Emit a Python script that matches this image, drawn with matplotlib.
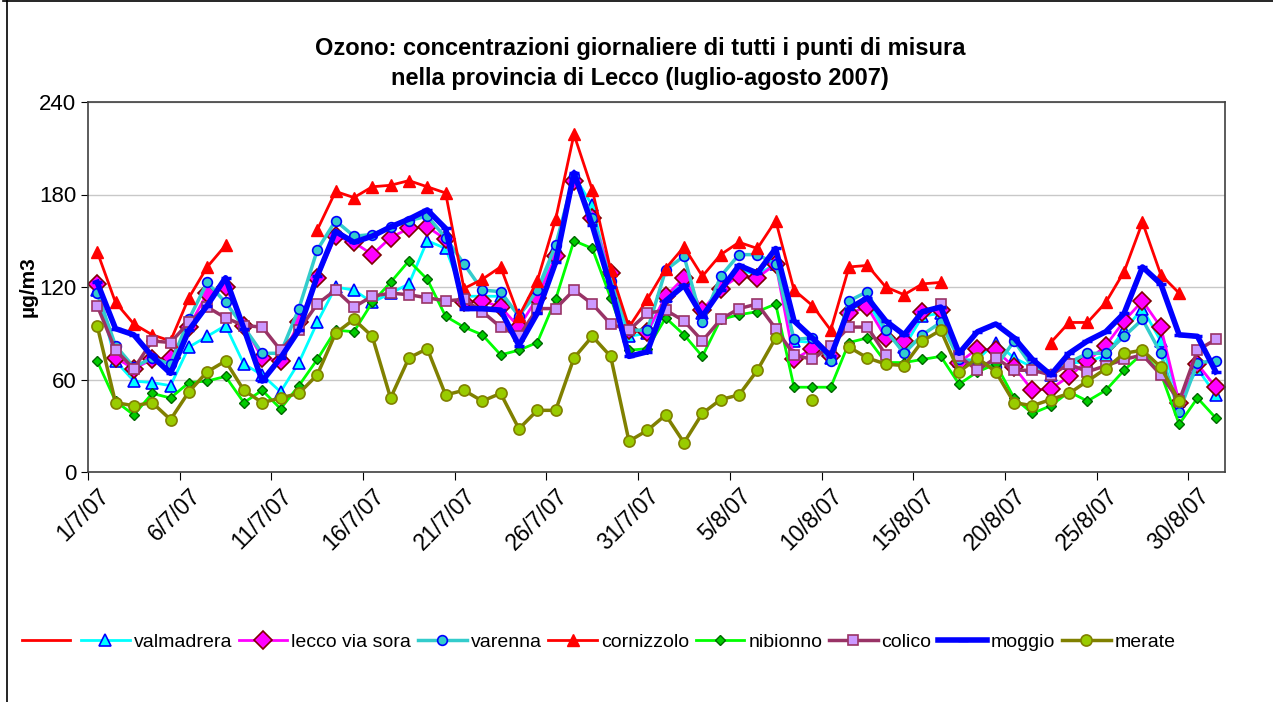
import numpy as np
import matplotlib

matplotlib.use("Agg")

import matplotlib.pyplot as plt
from matplotlib.lines import Line2D

plt.rcParams["font.family"] = ["Liberation Sans", "DejaVu Sans"]

nan = np.nan

# giorni 1/7/07 .. 31/8/07
days = [f"{d}/7/07" for d in range(1, 32)] + [f"{d}/8/07" for d in range(1, 32)]

valmadrera = [118, 72, 59, 58, 56, 81, 88, 95, 70, 63, 52, 71, 97, 120, 118, 110, 116, 122, 150, 145,
              114, 114, 114, 102, 115, 146, 192, 173, 123, 88, 90, 114, 125, 103, 122, 131, 128, 135, 85, 84,
              74, 105, 111, 90, 81, 101, 103, 72, 73, 84, 74, 68, 63, 71, 71, 76, 92, 106, 85, 46,
              67, 50]
lecco = [122, 74, 67, 73, 74, 94, 116, 120, 95, 74, 72, 97, 126, 153, 149, 141, 152, 158, 159, 151,
         110, 111, 107, 94, 113, 140, 189, 165, 129, 92, 91, 114, 126, 105, 119, 127, 126, 135, 73, 80,
         75, 103, 107, 87, 85, 104, 105, 71, 80, 79, 68, 53, 54, 62, 72, 82, 98, 111, 94, 45,
         70, 55]
varenna = [116, 82, 68, 74, 70, 99, 123, 110, 94, 77, 77, 106, 144, 163, 153, 154, 159, 163, 166, 152,
           135, 118, 117, 101, 118, 147, 192, 165, 124, 92, 92, 131, 140, 97, 127, 141, 141, 135, 86, 87,
           72, 111, 117, 92, 77, 89, 97, 73, 72, 68, 85, 68, 63, 71, 77, 77, 88, 99, 77, 39,
           71, 72]
cornizzolo = [143, 110, 96, 89, 85, 113, 133, 147, nan, nan, nan, nan, 157, 182, 178, 185, 186, 189, 185, 181,
              119, 125, 133, 101, 124, 164, 219, 183, 131, 94, 112, 132, 146, 127, 141, 149, 145, 163, 118, 108,
              92, 133, 134, 120, 115, 122, 123, nan, nan, nan, nan, nan, 84, 97, 97, 110, 130, 162, 128, 116,
              nan, nan]
nibionno = [72, 46, 37, 51, 48, 58, 59, 62, 45, 53, 41, 56, 73, 92, 91, 110, 123, 137, 125, 101,
            94, 89, 76, 79, 84, 112, 150, 145, 113, 79, 80, 100, 89, 75, 99, 102, 104, 109, 55, 55,
            55, 84, 87, 71, 71, 73, 75, 57, 65, 70, 48, 38, 43, 52, 46, 53, 66, 77, 64, 31,
            48, 35]
colico = [108, 79, 67, 85, 84, 97, 107, 100, 95, 94, 79, 92, 109, 118, 107, 114, 116, 115, 113, 111,
          112, 104, 94, 88, 106, 106, 118, 109, 96, 92, 103, 105, 98, 85, 99, 106, 109, 93, 76, 73,
          82, 94, 94, 76, nan, nan, 109, 75, 66, 74, 66, 66, 63, 70, 65, 69, 73, 76, 63, 46,
          79, 86]
moggio = [123, 93, 89, 75, 64, 92, 108, 126, 93, 59, 74, 92, 127, 156, 149, 153, 159, 164, 170, 158,
          106, 106, 105, 82, 103, 136, 194, 160, 120, 75, 78, 111, 121, 101, 118, 134, 129, 145, 98, 87,
          75, 106, 113, 98, 89, 104, 107, 77, 91, 96, 87, 73, 63, 77, 85, 91, 103, 133, 122, 89,
          88, 65]
merate = [95, 45, 43, 45, 34, 52, 65, 72, 53, 45, 48, 51, 63, 90, 99, 88, 48, 74, 80, 50,
          53, 46, 51, 28, 40, 40, 74, 88, 75, 20, 27, 37, 19, 38, 47, 50, 66, 87, nan, 47,
          nan, 81, 74, 70, 69, 85, 92, 65, 74, 65, 45, 43, 47, 51, 59, 67, 77, 79, 68, 46,
          nan, nan]

series = [
    ("valmadrera", valmadrera, dict(color="#00FFFF", lw=2, marker="^", ms=8, mfc="#00FFFF", mec="#0000FF", mew=1.2)),
    ("lecco via sora", lecco, dict(color="#FF00FF", lw=2, marker="D", ms=9, mfc="#FF00FF", mec="#800000", mew=1.2)),
    ("varenna", varenna, dict(color="#33CCCC", lw=2.5, marker="o", ms=7, mfc="#33CCCC", mec="#0000FF", mew=1.2)),
    ("cornizzolo", cornizzolo, dict(color="#FF0000", lw=2, marker="^", ms=8, mfc="#FF0000", mec="#FF0000")),
    ("nibionno", nibionno, dict(color="#00FF00", lw=2, marker="D", ms=5.5, mfc="#00CC00", mec="#006600", mew=1)),
    ("colico", colico, dict(color="#993366", lw=2.5, marker="s", ms=7, mfc="#CC99FF", mec="#993366", mew=1.2)),
    ("moggio", moggio, dict(color="#0000FF", lw=4, marker="_", ms=7, mew=2.5)),
    ("merate", merate, dict(color="#808000", lw=2.5, marker="o", ms=8, mfc="#99CC00", mec="#808000", mew=1.2)),
]

fig = plt.figure(figsize=(12.73, 7.02), dpi=100)
ax = fig.add_axes([88 / 1273, 1 - 472 / 702, (1225 - 88) / 1273, (472 - 102) / 702])

x = np.arange(len(days))
handles = [Line2D([], [], color="#FF0000", lw=2)]
labels = [""]
for name, vals, style in series:
    (ln,) = ax.plot(x, vals, label=name, **style)
    handles.append(ln)
    labels.append(name)

ax.set_xlim(-0.5, len(days) - 0.5)
ax.set_ylim(0, 240)
ax.set_yticks([0, 60, 120, 180, 240])
ax.tick_params(axis="y", labelsize=16, length=5, direction="out")
ax.grid(True, axis="y", color="#C8C8C8", lw=1)
ax.set_axisbelow(True)

# tacche tra le categorie, etichette al centro
ax.set_xticks(np.arange(-0.5, len(days), 5))
ax.set_xticklabels([])
ax.tick_params(axis="x", which="major", length=6, direction="out")
ax.set_xticks(x[::5], minor=True)
ax.set_xticklabels(days[::5], minor=True, rotation=45, ha="right", va="top",
                   rotation_mode="anchor", fontsize=16.5)
ax.tick_params(axis="x", which="minor", length=0, pad=9)

for sp in ax.spines.values():
    sp.set_color("#404040")
    sp.set_linewidth(1.2)

ax.set_ylabel("µg/m3", fontsize=15, fontweight="bold", labelpad=1)

fig.text(0.503, 0.909, "Ozono: concentrazioni giornaliere di tutti i punti di misura\n"
         "nella provincia di Lecco (luglio-agosto 2007)",
         ha="center", va="center", fontsize=17, fontweight="bold", linespacing=1.4)

fig.legend(handles, labels, loc="center left", bbox_to_anchor=(14 / 1273, 1 - 642 / 702),
           ncol=9, frameon=False, fontsize=14, handlelength=2.5, handletextpad=0.2,
           columnspacing=0.35, borderaxespad=0)

# cornice esterna
fig.add_artist(Line2D([7 / 1273, 7 / 1273], [0, 1 - 1 / 702], transform=fig.transFigure, color="black", lw=1.2))
fig.add_artist(Line2D([3 / 1273, 1], [1 - 1 / 702, 1 - 1 / 702], transform=fig.transFigure, color="black", lw=1.2))

fig.savefig("out.png", dpi=100)
